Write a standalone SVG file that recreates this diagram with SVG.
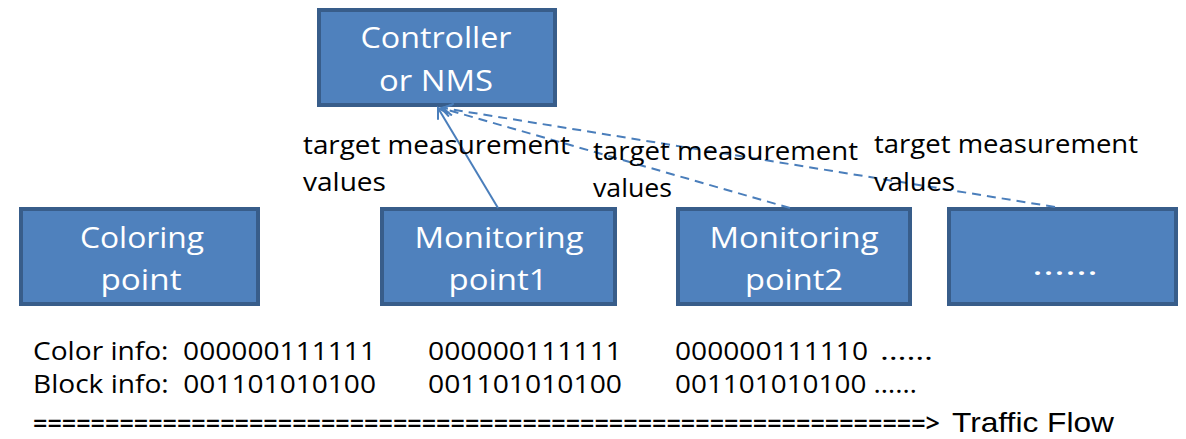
<svg xmlns="http://www.w3.org/2000/svg" width="1186" height="439" viewBox="0 0 1186 439">
<defs>
<style>
.box{fill:#4F81BD;stroke:#385D8A;stroke-width:4}
.bt{font-family:"Open Sans","Noto Sans",sans-serif;font-size:30px;fill:#fff;text-anchor:middle}
.lt{font-family:"Open Sans","Noto Sans",sans-serif;font-size:25px;fill:#000}
.ln{stroke:#4A7EBB;stroke-width:2;fill:none}
.dash{stroke-dasharray:9 6}
</style>
<marker id="arr" markerWidth="14" markerHeight="14" refX="12" refY="7" orient="auto" markerUnits="userSpaceOnUse">
<path d="M2,1 L12,7 L2,13" fill="none" stroke="#4A7EBB" stroke-width="2"/>
</marker>
</defs>
<rect width="1186" height="439" fill="#fff"/>
<g id="controller">
<rect class="box" x="319" y="10" width="236" height="95"/>
<text class="bt" x="436" y="48" textLength="151" lengthAdjust="spacingAndGlyphs">Controller</text>
<text class="bt" x="436" y="91" textLength="114" lengthAdjust="spacingAndGlyphs">or NMS</text>
</g>
<g id="coloring">
<rect class="box" x="21" y="209" width="237" height="95"/>
<text class="bt" x="142" y="248" textLength="124" lengthAdjust="spacingAndGlyphs">Coloring</text>
<text class="bt" x="141" y="290" textLength="81" lengthAdjust="spacingAndGlyphs">point</text>
</g>
<g id="mp1">
<rect class="box" x="382" y="209" width="233" height="95"/>
<text class="bt" x="499" y="248" textLength="169" lengthAdjust="spacingAndGlyphs">Monitoring</text>
<text class="bt" x="498" y="290" textLength="99" lengthAdjust="spacingAndGlyphs">point1</text>
</g>
<g id="mp2">
<rect class="box" x="678" y="209" width="232" height="95"/>
<text class="bt" x="794" y="248" textLength="169" lengthAdjust="spacingAndGlyphs">Monitoring</text>
<text class="bt" x="794" y="290" textLength="98" lengthAdjust="spacingAndGlyphs">point2</text>
</g>
<g id="more">
<rect class="box" x="949" y="209" width="227" height="95"/>
<text class="bt" x="1065" y="275" textLength="66" lengthAdjust="spacingAndGlyphs">......</text>
</g>
<g id="connectors">
<line class="ln" x1="498" y1="208" x2="438" y2="108" marker-end="url(#arr)"/>
<line class="ln dash" x1="790" y1="208" x2="441" y2="108" marker-end="url(#arr)"/>
<line class="ln dash" x1="1055" y1="207" x2="443" y2="108" marker-end="url(#arr)"/>
</g>
<g id="labels">
<text class="lt" x="303" y="154" textLength="267" lengthAdjust="spacingAndGlyphs">target measurement</text>
<text class="lt" x="303" y="191" textLength="83" lengthAdjust="spacingAndGlyphs">values</text>
<text class="lt" x="593" y="160" textLength="265" lengthAdjust="spacingAndGlyphs">target measurement</text>
<text class="lt" x="593" y="197" textLength="79" lengthAdjust="spacingAndGlyphs">values</text>
<text class="lt" x="874" y="153" textLength="264" lengthAdjust="spacingAndGlyphs">target measurement</text>
<text class="lt" x="874" y="191" textLength="81" lengthAdjust="spacingAndGlyphs">values</text>
</g>
<g id="info">
<text class="lt" x="33" y="360" textLength="343" lengthAdjust="spacingAndGlyphs">Color info:&#160; 000000111111</text>
<text class="lt" x="428" y="360" textLength="194" lengthAdjust="spacingAndGlyphs">000000111111</text>
<text class="lt" x="675" y="360" textLength="193" lengthAdjust="spacingAndGlyphs">000000111110</text>
<text class="lt" x="880" y="360" textLength="53" lengthAdjust="spacingAndGlyphs">……</text>
<text class="lt" x="33" y="393" textLength="343" lengthAdjust="spacingAndGlyphs">Block info:&#160; 001101010100</text>
<text class="lt" x="428" y="393" textLength="194" lengthAdjust="spacingAndGlyphs">001101010100</text>
<text class="lt" x="675" y="393" textLength="242" lengthAdjust="spacingAndGlyphs">001101010100 ……</text>
<text class="lt" x="33" y="432" font-weight="600" textLength="907" lengthAdjust="spacingAndGlyphs">==============================================================&gt;</text>
<text x="952" y="432" font-family="Liberation Sans, Arial, sans-serif" font-size="28" textLength="162" lengthAdjust="spacingAndGlyphs">Traffic Flow</text>
</g>
</svg>
